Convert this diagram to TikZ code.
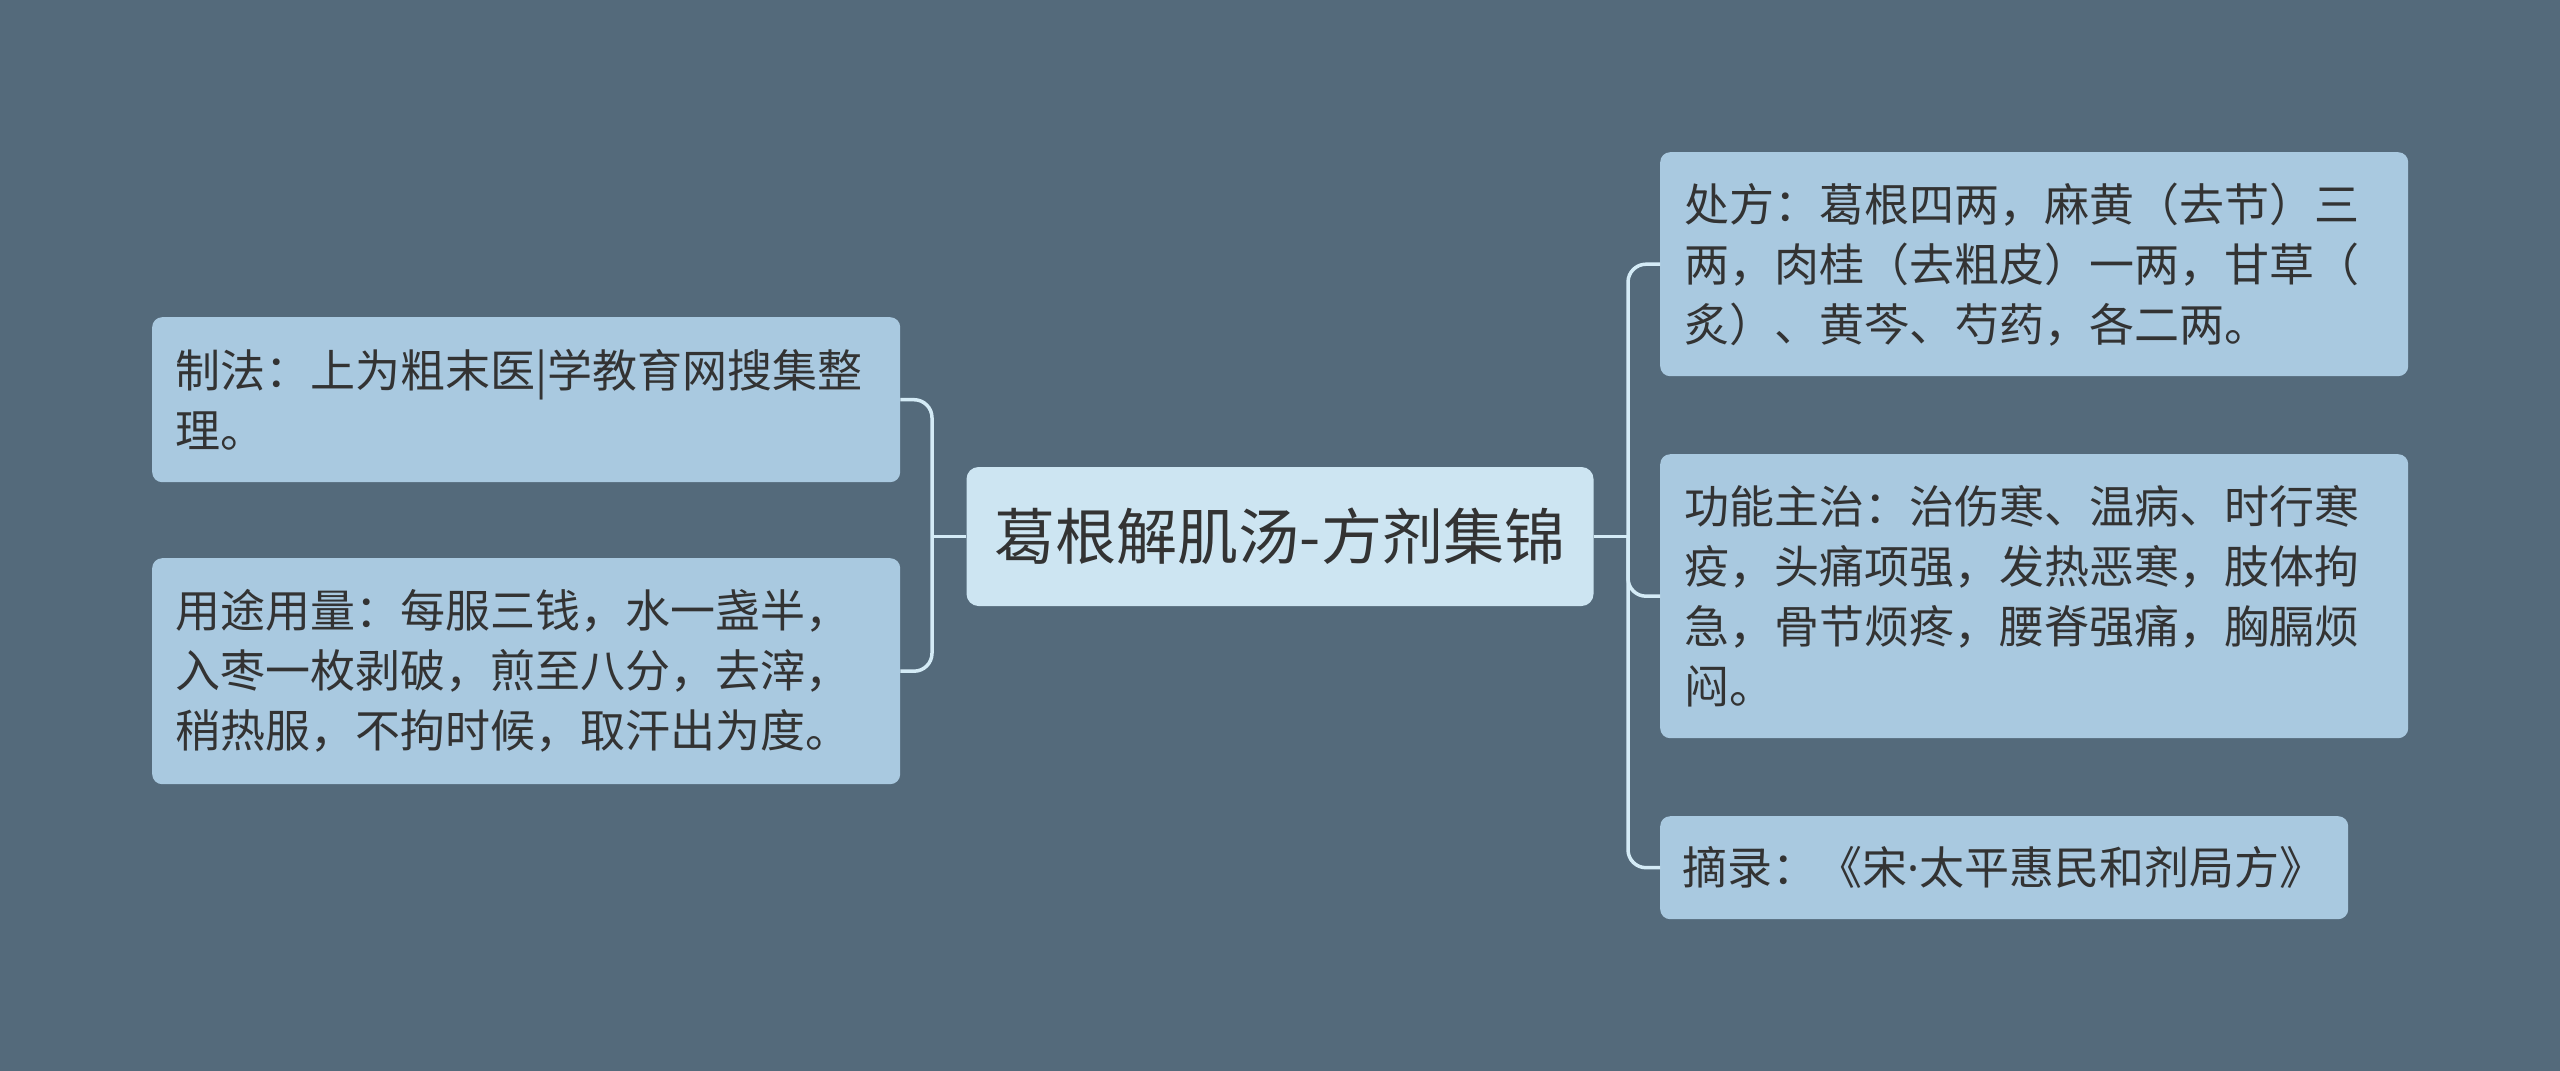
\documentclass[tikz,border=0pt]{standalone}
\usepackage{fontspec}
\setmainfont{Noto Sans CJK SC}
\newfontfamily\latinfont{Noto Sans}
\definecolor{bg}{HTML}{546A7B}
\definecolor{boxfill}{HTML}{A9C9E0}
\definecolor{centerfill}{HTML}{CDE5F2}
\definecolor{linec}{HTML}{D4EBF6}
\definecolor{txt}{HTML}{333333}
\begin{document}
\begin{tikzpicture}[x=1pt,y=-1pt,
  leaf/.style={rectangle, rounded corners=10pt, fill=boxfill, draw=none, text=txt,
    align=left, anchor=north west, inner sep=0pt, font=\fontsize{45}{60}\selectfont},
  root/.style={rectangle, rounded corners=12pt, fill=centerfill, draw=none, text=txt,
    inner sep=0pt, font=\fontsize{61}{70}\selectfont},
  conn/.style={draw=linec, line width=3.5pt, rounded corners=18pt}]
\useasboundingbox[fill=bg] (0,0) rectangle (2560,1071);
% center
\node[root, minimum width=627pt, minimum height=139pt] (c) at (1280,536.5) {葛根解肌汤-方剂集锦};
% left
\node[leaf, minimum width=748pt, minimum height=165pt, text width=702pt] (l1) at (152,317) {制法：上为粗末医|学教育网搜集整\\理。};
\node[leaf, minimum width=748pt, minimum height=226pt, text width=702pt] (l2) at (152,558) {用途用量：每服三钱，水一盏半，\\入枣一枚剥破，煎至八分，去滓，\\稍热服，不拘时候，取汗出为度。};
% right
\node[leaf, minimum width=748pt, minimum height=224pt, text width=700pt] (r1) at (1660,152) {处方：葛根四两，麻黄（去节）三\\两，肉桂（去粗皮）一两，甘草（\\炙）、黄芩、芍药，各二两。};
\node[leaf, minimum width=748pt, minimum height=284pt, text width=700pt] (r2) at (1660,454) {功能主治：治伤寒、温病、时行寒\\疫，头痛项强，发热恶寒，肢体拘\\急，骨节烦疼，腰脊强痛，胸膈烦\\闷。};
\node[leaf, minimum width=688pt, minimum height=103pt, text width=644pt] (r3) at (1660,816) {摘录：《宋{\latinfont ·}太平惠民和剂局方》};
% connectors
\coordinate (jl) at (932,536.5);
\coordinate (jr) at (1628,536.5);
\draw[conn] (c.west) -- (jl);
\draw[conn] (l1.east) -| (jl) |- (l2.east);
\draw[conn] (c.east) -- (jr);
\draw[conn] (r1.west) -| (jr) |- (r3.west);
\draw[conn] (jr) |- (r2.west);
\end{tikzpicture}
\end{document}
